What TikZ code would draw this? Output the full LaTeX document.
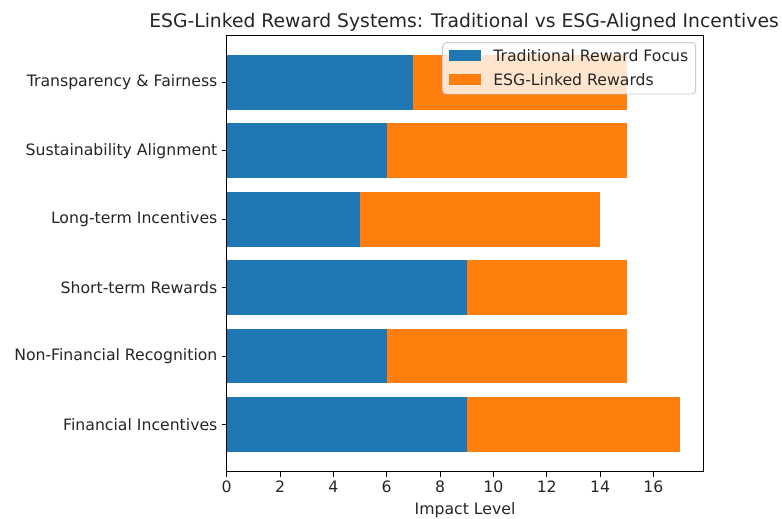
\documentclass[tikz,border=0pt]{standalone}
\usepackage{fontspec}
\setmainfont{DejaVu Sans}
\usepackage{tikz}
\usepackage{xcolor}
\usetikzlibrary{positioning}

\definecolor{tradblue}{HTML}{1F77B4}
\definecolor{esgorange}{HTML}{FF7F0E}
\definecolor{inkgray}{HTML}{262626}

\tikzset{
  tradbar/.style={fill=tradblue},
  esgbar/.style={fill=esgorange},
  frameline/.style={draw=black, line width=0.7pt},
  tickline/.style={draw=black, line width=0.7pt},
  ticklabel/.style={inner sep=0pt, text=inkgray, font=\fontsize{11.3}{13}\selectfont},
  titletext/.style={inner sep=0pt, text=inkgray, font=\fontsize{13.5}{16}\selectfont},
  legendbox/.style={draw=black!20, fill=white, fill opacity=0.8, rounded corners=2.5, line width=0.7pt}
}

\begin{document}
\begin{tikzpicture}[x=0.72pt, y=-0.72pt]
                        \useasboundingbox[fill=white] (0,0) rectangle (782,519);
                        % title
                        \node[titletext, anchor=base] (title) at (464,28) {ESG-Linked Reward Systems: Traditional vs ESG-Aligned Incentives};
                        % stacked bars and category ticks
                        \foreach \i/\name/\trad/\esg in {0/Financial Incentives/9/8,
                                                         1/Non-Financial Recognition/6/9,
                                                         2/Short-term Rewards/9/6,
                                                         3/Long-term Incentives/5/9,
                                                         4/Sustainability Alignment/6/9,
                                                         5/Transparency \& Fairness/7/8} {
                            \pgfmathsetmacro{\yc}{424.5-68.4*\i}
                            \pgfmathsetmacro{\xa}{226.7+26.67*\trad}
                            \pgfmathsetmacro{\xb}{226.7+26.67*(\trad+\esg)}
                            \fill[tradbar] (226.7,\yc-27.4) rectangle (\xa,\yc+27.4);
                            \fill[esgbar] (\xa,\yc-27.4) rectangle (\xb,\yc+27.4);
                            \coordinate (yt\i) at (226.7,\yc);
                            \draw[tickline] (yt\i) -- ++(-4.9,0) coordinate (ye\i);
                            \node[ticklabel, anchor=east] (cat\i) at ([xshift=-3pt]ye\i) {\name};
                        }
                        % value ticks
                        \foreach \v in {0,2,...,16} {
                            \pgfmathsetmacro{\xv}{226.7+26.67*\v}
                            \coordinate (xt\v) at (\xv,471.7);
                            \draw[tickline] (xt\v) -- ++(0,4.9) coordinate (xe\v);
                            \node[ticklabel, anchor=north] (val\v) at ([yshift=-3pt]xe\v) {\v};
                        }
                        % axes frame
                        \draw[frameline] (226.7,35) rectangle (703,471.7);
                        \node[ticklabel, anchor=north] (xlabel) at (465,502) {Impact Level};
                        % legend
                        \draw[legendbox] (442.7,42.7) rectangle (695.7,94);
                        \fill[tradbar] (449,50.5) rectangle (480.7,61.5);
                        \node[ticklabel, anchor=west] (legtrad) at (493,56) {Traditional Reward Focus};
                        \fill[esgbar] (449,74) rectangle (480.7,85);
                        \node[ticklabel, anchor=west] (legesg) at (493,79.5) {ESG-Linked Rewards};
                    \end{tikzpicture}
\end{document}
